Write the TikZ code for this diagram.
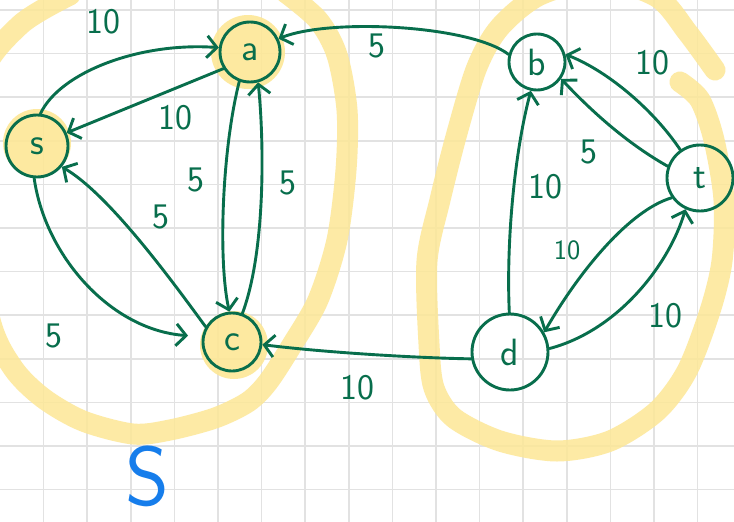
\documentclass[tikz,border=0pt]{standalone}
\usetikzlibrary{arrows.meta}
\definecolor{ink}{RGB}{8,110,76}
\definecolor{hl}{RGB}{253,231,150}
\definecolor{grd}{RGB}{226,226,226}
\definecolor{blueink}{RGB}{22,125,235}
\begin{document}
\begin{tikzpicture}[x=1pt,y=-1pt,
  vtx/.style={circle,draw=ink,line width=2.9pt,inner sep=0pt,font=\sffamily\fontsize{38}{38}\selectfont,text=ink},
  edge/.style={draw=ink,line width=2.9pt,-{Straight Barb[length=10pt,width=22pt]},line cap=round},
  wt/.style={text=ink,font=\sffamily\fontsize{36}{36}\selectfont,inner sep=0pt},
  band/.style={draw=hl,line width=21pt,line cap=round,line join=round,opacity=0.85},
  glow/.style={fill=hl,opacity=0.9}]
\useasboundingbox (0,0) rectangle (734,522);
\clip (0,0) rectangle (734,522);
\fill[white] (0,0) rectangle (734,522);
% grid
\foreach \i in {1,...,16} \draw[grd,line width=1.6pt] (43.6*\i,0) -- (43.6*\i,522);
\foreach \j in {0,...,11} \draw[grd,line width=1.6pt] (0,10+43.6*\j) -- (734,10+43.6*\j);
% yellow bands
\draw[band] plot[smooth] coordinates {(285,-8) (318,20) (337,55) (347,110) (346,170) (337,240) (318,300) (292,345) (268,382) (248,402) (215,418) (170,430) (133,434) (83,421) (43,398) (13,368) (-10,320) (-30,200) (-20,80) (20,25) (70,-5)};
\draw[band] plot[smooth] coordinates {(680,82) (700,100) (714,140) (724,200) (722,261) (710,311) (687,371) (657,411) (610,441) (557,451) (500,441) (454,418) (434,388) (429,344) (427,261) (440,200) (457,133) (477,67) (500,27) (540,-5) (600,-20) (657,-3) (688,33) (715,70)};
% highlights
\fill[glow] (248,52) circle (37);
\fill[glow] (37,143) circle (34);
\fill[glow] (234,345) circle (34);
% vertices
\node[vtx,minimum size=60pt] (a) at (250,52) {a};
\node[vtx,minimum size=62pt] (s) at (37,146) {s};
\node[vtx,minimum size=58pt] (c) at (232,342) {c};
\node[vtx,minimum size=56pt] (b) at (537,62) {b};
\node[vtx,minimum size=66pt] (t) at (700,178) {t};
\node[vtx,minimum size=76pt] (d) at (510,352) {d};
% edges
\draw[edge] (s.84) .. controls (60,72) and (140,42) .. (a.172);
\draw[edge] (a.212) -- (s.24);
\draw[edge] (a.250) .. controls (222,150) and (218,260) .. (c.95);
\draw[edge] (c.70) .. controls (266,250) and (264,140) .. (a.285);
\draw[edge,shorten >=14pt] (s.265) .. controls (45,255) and (110,330) .. (c.170);
\draw[edge] (c.150) .. controls (175,285) and (110,195) .. (s.320);
\draw[edge] (b.165) .. controls (470,25) and (330,18) .. (a.25);
\draw[edge] (t.125) .. controls (655,112) and (610,72) .. (b.15);
\draw[edge] (t.160) .. controls (630,145) and (595,115) .. (b.325);
\draw[edge] (d.91) .. controls (506,240) and (515,150) .. (b.258);
\draw[edge] (t.215) .. controls (630,210) and (580,270) .. (d.30);
\draw[edge] (d.5) .. controls (620,330) and (670,262) .. (t.245);
\draw[edge] (d.190) .. controls (420,358) and (330,353) .. (c.355);
% weights
\node[wt] (w1) at (103,22) {10};
\node[wt] (w2) at (175,118) {10};
\node[wt] (w3) at (196,180) {5};
\node[wt] (w4) at (288,183) {5};
\node[wt] (w5) at (161,217) {5};
\node[wt] (w6) at (54,336) {5};
\node[wt] (w7) at (377,46) {5};
\node[wt] (w8) at (652,63) {10};
\node[wt] (w9) at (589,152) {5};
\node[wt] (w10) at (545,187) {10};
\node[wt,font=\sffamily\fontsize{28}{28}\selectfont] (w11) at (567,250) {10};
\node[wt] (w12) at (665,316) {10};
\node[wt] (w13) at (357,388) {10};
% set label
\node[text=blueink,font=\sffamily\fontsize{84}{84}\selectfont,inner sep=0pt] (S) at (147,476) {S};
\end{tikzpicture}
\end{document}
